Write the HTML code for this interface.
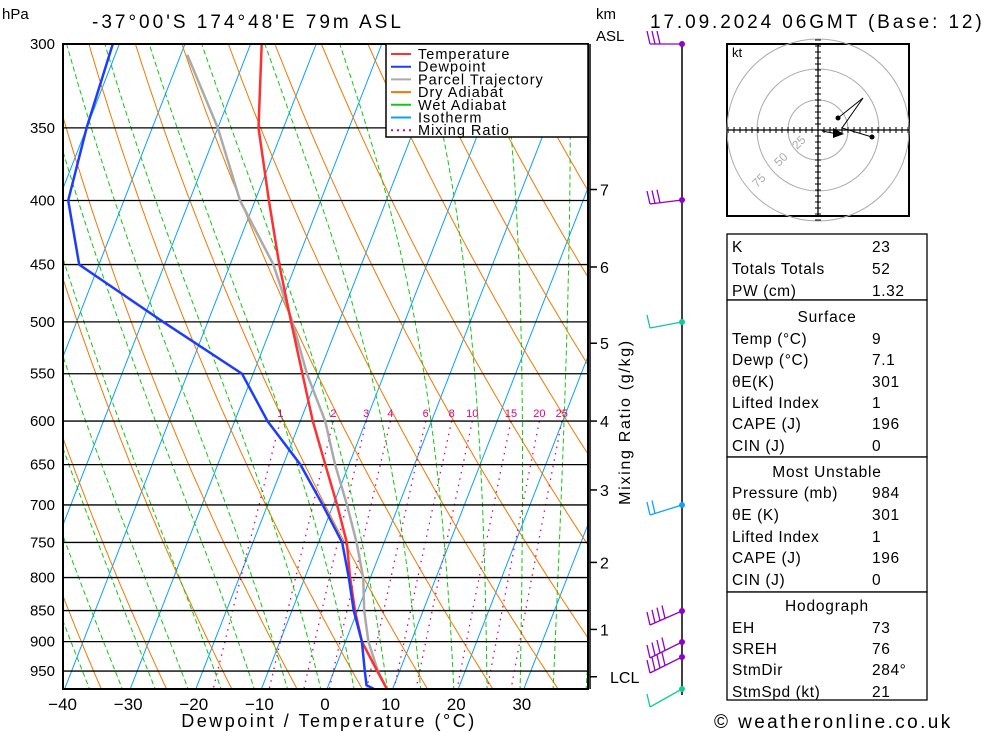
<!DOCTYPE html>
<html><head><meta charset="utf-8">
<style>
html,body{margin:0;padding:0;background:#fff;}
svg{display:block;font-family:"Liberation Sans",sans-serif;}
</style></head>
<body>
<svg id="chart" width="1000" height="733" viewBox="0 0 1000 733" xmlns="http://www.w3.org/2000/svg">
<defs><clipPath id="plotclip"><rect x="63" y="44" width="525" height="645"/></clipPath></defs>
<rect width="1000" height="733" fill="#fff"/>
<g id="bg" clip-path="url(#plotclip)"></g>
<g id="grid"></g>
<g id="series" clip-path="url(#plotclip)"></g>
<rect x="63" y="44" width="525" height="645" fill="none" stroke="#000" stroke-width="2"/>
<text x="2" y="19" font-size="15">hPa</text>
<text x="92" y="28" font-size="19" letter-spacing="3">-37°00'S  174°48'E  79m  ASL</text>
<text x="596" y="19" font-size="15">km</text>
<text x="596" y="41" font-size="15">ASL</text>
<text x="650" y="28" font-size="19" letter-spacing="2.9">17.09.2024  06GMT  (Base: 12)</text>
<text x="329" y="727" font-size="18" letter-spacing="2.5" text-anchor="middle">Dewpoint / Temperature (°C)</text>
<text transform="translate(630,422) rotate(-90)" font-size="16" letter-spacing="1.7" text-anchor="middle">Mixing Ratio (g/kg)</text>
<g id="legend">
<rect x="386" y="44" width="202" height="93" fill="#fff" stroke="#000" stroke-width="1.5"/>
</g>
<g id="right"></g>
<g id="barbs"></g>
<g id="hodo"></g>
<g id="table"></g>
<text x="714" y="728" font-size="19" letter-spacing="2.4">© weatheronline.co.uk</text>
</svg>
<script>
// ---- data ----
const tempP = [984,950,900,850,800,750,700,650,600,550,500,450,400,350,300];
const tempT = [9.3,6.6,2.5,-0.4,-3.1,-5.7,-9.4,-13.6,-18.1,-22.5,-27.3,-32.5,-37.9,-43.8,-48.3];
const dewP = [984,975,950,900,850,800,750,700,650,600,550,500,450,400,350,300];
const dewT = [7.6,5.8,4.7,2.5,-0.6,-3.3,-6.4,-11.6,-17.4,-25,-31.7,-46.8,-63,-68.5,-70,-71];
const parP = [984,950,900,850,800,750,700,650,600,550,500,450,400,350,306];
const parT = [9.3,6.7,3.5,1.0,-1.1,-4.2,-7.9,-12.1,-16.2,-21.8,-27.1,-33.4,-42.3,-50,-59];
const pLevels = [300,350,400,450,500,550,600,650,700,750,800,850,900,950];
const xTicks = [-40,-30,-20,-10,0,10,20,30];
const mixRatios = [1,2,3,4,6,8,10,15,20,25];
const kmLabels = ['7','6','5','4','3','2','1','LCL'];
const kmP = [392,452,520,600,681,778,880,960];
const tableRows = [
 ['K','23'],['Totals Totals','52'],['PW (cm)','1.32'],
 ['#Surface'],['Temp (°C)','9'],['Dewp (°C)','7.1'],['θE(K)','301'],['Lifted Index','1'],['CAPE (J)','196'],['CIN (J)','0'],
 ['#Most Unstable'],['Pressure (mb)','984'],['θE (K)','301'],['Lifted Index','1'],['CAPE (J)','196'],['CIN (J)','0'],
 ['#Hodograph'],['EH','73'],['SREH','76'],['StmDir','284°'],['StmSpd (kt)','21']
];
// ---- scales ----
const NS='http://www.w3.org/2000/svg';
function yP(p){return 44+544*Math.log(p/300);}
function xT(T,p){return 327+6.56*T+0.39*(689-yP(p));}
function mk(tag,attrs,parent){const e=document.createElementNS(NS,tag);for(const k in attrs)e.setAttribute(k,attrs[k]);parent.appendChild(e);return e;}
function poly(pts,stroke,w,parent,dash){const a={points:pts.map(q=>q[0].toFixed(1)+','+q[1].toFixed(1)).join(' '),fill:'none',stroke:stroke,'stroke-width':w};if(dash)a['stroke-dasharray']=dash;return mk('polyline',a,parent);}
const bg=document.getElementById('bg');
const ps=[];for(let p=300;p<=1000;p+=5)ps.push(p);
// isotherms
for(let T=-130;T<=50;T+=10){const l=poly([[xT(T,1000),yP(1000)],[xT(T,280),yP(280)]],'#0aa0ff',1,bg);

}
// dry adiabats
for(let th=220;th<=480;th+=10){const pts=ps.map(p=>[xT(th*Math.pow(p/1000,0.2857)-273.15,p),yP(p)]);const l=poly(pts,'#f07800',1,bg);

}
// wet adiabats
function es(T){return 6.112*Math.exp(17.67*T/(T+243.5));}
for(let T0=-40;T0<=45;T0+=5){let T=T0+273.15;const pts=[];for(let p=1000;p>=300;p-=2){pts.push([xT(T-273.15,p),yP(p)]);
const rs=0.622*es(T-273.15)/(p-es(T-273.15));const Lv=2.5e6,Rd=287,cp=1005;
const dTdp=(Rd*T+Lv*rs)/(p*(cp+Lv*Lv*rs*0.622/(Rd*T*T)));T-=dTdp*2;}
const l=poly(pts,'#10c810',1,bg,'5,3');

}
// mixing ratio
function tdW(w,p){const e=w*p/(622+w);const a=Math.log(e/6.112);return 243.5*a/(17.67-a);}
mixRatios.forEach(w=>{const pts=[];for(let p=600;p<=1000;p+=5)pts.push([xT(tdW(w,p),p),yP(p)]);
const l=poly(pts,'#e0007a',1.3,bg,'1.5,5');


const t=mk('text',{x:xT(tdW(w,600),600).toFixed(1),y:yP(600)-4,'font-size':11,fill:'#e0007a','text-anchor':'middle'},document.getElementById('chart'));t.textContent=w;

});
// pressure grid
const grid=document.getElementById('grid');
pLevels.forEach(p=>{const y=yP(p);const l=mk('line',{x1:63,x2:588,y1:y,y2:y,stroke:'#000','stroke-width':1.3},grid);


const t=mk('text',{x:55,y:y+5,'font-size':15,'text-anchor':'end'},grid);t.textContent=p;

});
xTicks.forEach(T=>{const x=327+6.56*T-2;const t=mk('text',{x:x,y:710,'font-size':17,'text-anchor':'middle'},grid);t.textContent=(T<0?'−':'')+Math.abs(T);

});
// series
const ser=document.getElementById('series');
function line(P,T,c,w,name){const l=poly(P.map((p,i)=>[xT(T[i],p),yP(p)]),c,w,ser);

}
line(parP,parT,'#aaaaaa',2.5,'parcel-trajectory-line');
line(tempP,tempT,'#ff3030',2.5,'temperature-line');
line(dewP,dewT,'#1e3cff',2.5,'dewpoint-line');
// legend
const leg=document.getElementById('legend');
[['Temperature','#ff3030',''],['Dewpoint','#1e3cff',''],['Parcel Trajectory','#aaaaaa',''],['Dry Adiabat','#f07800',''],['Wet Adiabat','#10c810',''],['Isotherm','#0aa0ff',''],['Mixing Ratio','#e0007a','2,4']].forEach((e,i)=>{const y=54+i*12.7;
const l=mk('line',{x1:391,x2:411,y1:y,y2:y,stroke:e[1],'stroke-width':2},leg);if(e[2])l.setAttribute('stroke-dasharray',e[2]);


const t=mk('text',{x:418,y:y+5,'font-size':14.5,'letter-spacing':'1'},leg);t.textContent=e[0];

});
// right km axis
const rt=document.getElementById('right');
mk('line',{x1:590,x2:590,y1:44,y2:689,stroke:'#000','stroke-width':1.5},rt);
mk('line',{x1:682,x2:682,y1:44,y2:695,stroke:'#000','stroke-width':1.5},rt);
kmLabels.forEach((k,i)=>{const y=yP(kmP[i]);mk('line',{x1:590,x2:597,y1:y,y2:y,stroke:'#000','stroke-width':1.5},rt);
const t=mk('text',{x:k==='LCL'?610:600,y:y+6,'font-size':16},rt);t.textContent=k;

});
// barbs
const bb=document.getElementById('barbs');
[[44,'#9000d0',0,3],[200,'#9000d0',4,3],[322,'#10c8a0',6,1],[505,'#10a0ff',10,2],[611,'#9000d0',14,4],[642,'#9000d0',16,4],[657,'#9000d0',16,4],[689,'#10d090',18,1]].forEach(b=>{
const [y,c,drop,n]=b;const x0=682,x1=650,y1=y+drop;
mk('line',{x1:x0,y1:y,x2:x1,y2:y1,stroke:c,'stroke-width':1.3},bb);
for(let i=0;i<n;i++){const bx=x1+i*5,by=y1-(drop/32)*i*5;mk('line',{x1:bx,y1:by,x2:bx-3,y2:by-13,stroke:c,'stroke-width':1.3},bb);}
const d=mk('circle',{cx:x0,cy:y,r:3,fill:c},bb);

});
// hodograph
const h=document.getElementById('hodo');
mk('rect',{x:727,y:44,width:182,height:172,fill:'#fff',stroke:'#000','stroke-width':2},h);
[30,61,91].forEach(r=>mk('circle',{cx:818,cy:130,r:r,fill:'none',stroke:'#aaa','stroke-width':1},h));
mk('line',{x1:727,x2:909,y1:130,y2:130,stroke:'#000','stroke-width':1.3},h);
mk('line',{x1:818,x2:818,y1:44,y2:216,stroke:'#000','stroke-width':1.3},h);
for(let i=-15;i<=15;i++){mk('line',{x1:818+i*6,x2:818+i*6,y1:127,y2:133,stroke:'#000'},h);mk('line',{x1:815,x2:821,y1:130+i*6,y2:130+i*6,stroke:'#000'},h);}
[['25',797,150],['50',779,167],['75',757,188]].forEach(a=>{const t=mk('text',{x:a[1],y:a[2],'font-size':12,fill:'#aaa',transform:`rotate(-45 ${a[1]} ${a[2]})`},h);t.textContent=a[0];});
const kt=mk('text',{x:732,y:57,'font-size':13},h);kt.textContent='kt';
poly([[838,118],[863,98],[842,128],[872,137]],'#000',1,h);
poly([[822,131],[838,134]],'#000',1,h);
mk('polygon',{points:'833,128 844,134 833,138',fill:'#000'},h);
mk('circle',{cx:838,cy:118,r:2.5,fill:'#000'},h);
mk('circle',{cx:872,cy:137,r:2.5,fill:'#000'},h);
// table
const tb=document.getElementById('table');
[[234,300],[300,457],[457,592],[592,700]].forEach(b=>mk('rect',{x:727,y:b[0],width:200,height:b[1]-b[0],fill:'#fff',stroke:'#000','stroke-width':1.3},tb));
const rowY=[246,268,290,316,338,359,381,402,423,445,471,492,514,536,557,579,605,627,648,669,691];
tableRows.forEach((r,i)=>{const y=rowY[i]+6;
if(r[0][0]==='#'){const t=mk('text',{x:827,y:y,'font-size':15.5,'letter-spacing':'0.8','text-anchor':'middle'},tb);t.textContent=r[0].slice(1);

}
else{const t=mk('text',{x:732,y:y,'font-size':15.5,'letter-spacing':'0.6'},tb);t.textContent=r[0];


const v=mk('text',{x:872,y:y,'font-size':15.5,'letter-spacing':'0.6'},tb);v.textContent=r[1];

}});
</script>
</body></html>
